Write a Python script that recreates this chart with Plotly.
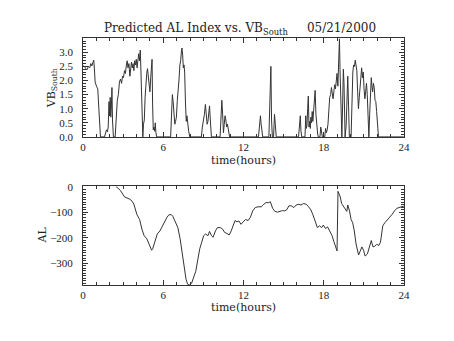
import plotly.graph_objects as go

# Solar-wind southward field (VB_South) sampled along the day, in hours UT
vb_time = [
    0.00, 0.10, 0.20, 0.30, 0.40, 0.50, 0.58, 0.66, 0.74, 0.80, 0.86, 0.90, 1.00, 1.10, 1.18, 1.30,
    1.60, 1.68, 1.75, 1.82, 1.88, 1.94, 1.98, 2.03, 2.07, 2.12, 2.16, 2.20, 2.27,
    2.40, 2.48, 2.56, 2.64, 2.72, 2.80, 2.88, 2.95, 3.02, 3.10, 3.17, 3.24, 3.30, 3.36, 3.43, 3.50,
    3.56, 3.62, 3.68, 3.74, 3.80, 3.86, 3.92, 3.98, 4.04, 4.10, 4.16, 4.22, 4.28, 4.33, 4.38, 4.43, 4.47,
    4.52, 4.58, 4.64, 4.70, 4.76, 4.82, 4.88, 4.94, 5.00, 5.06, 5.12, 5.16, 5.20, 5.25, 5.30, 5.36, 5.40,
    5.45, 5.50,
    6.55, 6.62, 6.68, 6.74, 6.80, 6.86, 6.92, 6.98, 7.05, 7.12, 7.18, 7.24, 7.30, 7.36, 7.40, 7.45,
    7.50, 7.55, 7.60, 7.66, 7.72, 7.77, 7.83, 7.90, 7.98,
    8.85, 8.92, 9.00, 9.08, 9.15, 9.22, 9.28, 9.34, 9.40, 9.46, 9.52, 9.60,
    10.25, 10.32, 10.38, 10.44, 10.50, 10.56, 10.62, 10.68, 10.74, 10.80, 10.88, 10.96,
    13.12, 13.20, 13.27, 13.32, 13.38, 13.44,
    13.90, 13.98, 14.05, 14.10, 14.16, 14.25, 14.32, 14.38, 14.45,
    16.12, 16.20, 16.25, 16.30, 16.36, 16.60, 16.66, 16.70, 16.75, 16.80, 16.85, 16.90, 16.95, 17.00,
    17.04, 17.09, 17.14, 17.19, 17.24, 17.30, 17.36, 17.42, 17.48, 17.55, 17.60, 17.72, 17.78, 17.84,
    17.90, 18.08, 18.14, 18.20, 18.26, 18.32, 18.38, 18.45, 18.52, 18.58, 18.64, 18.70, 18.76, 18.82,
    18.88, 18.94, 19.00, 19.06, 19.12, 19.18, 19.22, 19.27, 19.32, 19.36, 19.42, 19.47, 19.52, 19.56,
    19.60, 19.68, 19.74, 19.80, 19.86, 19.92, 20.05, 20.12, 20.18, 20.24, 20.30, 20.36, 20.42, 20.48,
    20.54, 20.60, 20.66, 20.72, 20.78, 20.84, 20.90, 20.96, 21.02, 21.08, 21.14, 21.20, 21.26, 21.32,
    21.38, 21.44, 21.50, 21.56, 21.60, 21.66, 21.72, 21.78, 21.84, 21.90, 21.96, 22.02, 22.10, 24.00,
]
vb_south = [
    2.52, 2.50, 2.42, 2.38, 2.50, 2.45, 2.60, 2.52, 2.65, 2.72, 2.30, 1.95, 1.80, 1.70, 1.00, 0.00,
    0.00, 0.15, 0.25, 0.18, 0.35, 1.25, 0.75, 1.40, 0.70, 1.10, 1.75, 0.60, 0.00,
    0.00, 0.80, 1.30, 1.50, 1.95, 2.05, 1.90, 2.15, 2.10, 2.35, 2.25, 2.55, 2.70, 2.45, 2.60, 2.15,
    2.35, 2.65, 2.45, 2.60, 2.35, 2.70, 2.55, 2.75, 2.45, 2.90, 2.95, 2.70, 3.08, 2.30, 1.10, 0.45, 0.00,
    0.45, 0.60, 1.40, 2.00, 2.25, 2.42, 2.20, 1.80, 1.60, 2.10, 2.40, 2.75, 1.20, 0.25, 0.35, 0.20, 0.50,
    0.15, 0.00,
    0.00, 0.80, 1.50, 1.25, 0.90, 0.45, 0.55, 0.70, 1.30, 1.95, 2.05, 2.55, 2.70, 3.05, 3.15, 2.90,
    2.45, 2.55, 2.30, 1.20, 0.55, 0.75, 0.45, 0.20, 0.00,
    0.00, 0.35, 0.55, 0.80, 1.15, 0.80, 0.45, 0.55, 0.95, 1.10, 0.60, 0.00,
    0.00, 0.80, 1.30, 0.80, 0.15, 0.45, 0.75, 0.60, 0.35, 0.45, 0.15, 0.00,
    0.00, 0.35, 0.75, 0.45, 0.10, 0.00,
    0.00, 1.20, 2.50, 0.60, 0.00, 0.00, 0.80, 0.45, 0.00,
    0.00, 0.60, 0.75, 0.20, 0.00, 0.00, 0.75, 0.30, 0.40, 1.00, 1.45, 0.35, 0.55, 0.30,
    0.70, 0.50, 0.90, 0.55, 1.00, 1.20, 1.65, 0.80, 0.30, 0.10, 0.00, 0.00, 0.35, 0.10,
    0.00, 0.00, 0.30, 0.15, 0.25, 0.45, 0.90, 1.40, 1.50, 1.75, 1.55, 1.35, 1.60, 1.85,
    1.70, 2.00, 2.25, 1.80, 2.60, 3.48, 2.40, 1.70, 0.60, 0.00, 1.20, 2.40, 1.90, 0.50,
    0.00, 0.40, 1.60, 2.15, 1.10, 0.00, 0.00, 1.50, 2.30, 2.55, 2.50, 2.72, 2.55, 2.35,
    1.60, 1.00, 1.40, 1.80, 2.20, 2.45, 2.10, 2.30, 1.70, 1.35, 1.60, 1.90, 1.50, 0.60,
    0.00, 0.80, 1.60, 2.10, 1.85, 1.60, 1.90, 1.75, 1.30, 1.25, 0.90, 0.40, 0.00, 0.00,
]

# Predicted AL index (nT)
al_time = [
    2.45, 2.80, 3.10, 3.30, 3.50, 3.67, 3.80, 4.03, 4.23, 4.40, 4.57, 4.77, 4.96, 5.13, 5.21, 5.38,
    5.55, 5.75, 5.94, 6.10, 6.28, 6.43, 6.60, 6.72, 6.92, 7.09, 7.26, 7.41, 7.58, 7.70, 7.82, 7.95,
    8.12, 8.29, 8.43, 8.58, 8.73, 8.88, 9.02, 9.17, 9.34, 9.46, 9.61, 9.73, 9.90, 10.05, 10.27, 10.44,
    10.59, 10.76, 10.93, 11.08, 11.25, 11.37, 11.51, 11.66, 11.81, 11.98, 12.15, 12.35, 12.52, 12.69,
    12.88, 13.08, 13.33, 13.52, 13.69, 13.86, 14.01, 14.18, 14.35, 14.55, 14.74, 14.91, 15.08, 15.23,
    15.40, 15.57, 15.77, 15.94, 16.14, 16.30, 16.50, 16.70, 16.87, 17.04, 17.19, 17.36, 17.53, 17.68,
    17.85, 17.97, 18.14, 18.29, 18.46, 18.63, 18.75, 18.90, 19.00, 19.07, 19.14, 19.24, 19.34, 19.49,
    19.63, 19.73, 19.80, 19.93, 20.05, 20.17, 20.29, 20.42, 20.61, 20.73, 20.86, 20.98, 21.10, 21.27,
    21.44, 21.56, 21.69, 21.83, 21.96, 22.13, 22.25, 22.42, 22.57, 22.74, 22.91, 23.10, 23.30, 23.47,
    23.64, 23.84, 24.00,
]
al_index = [
    3, -14, -39, -43, -48, -56, -68, -109, -128, -166, -192, -204, -226, -249, -243, -211,
    -185, -173, -153, -137, -119, -109, -109, -116, -141, -160, -204, -262, -313, -363, -383, -386,
    -379, -357, -332, -287, -243, -217, -192, -185, -192, -175, -192, -198, -173, -160, -160, -166,
    -179, -183, -189, -173, -153, -132, -137, -134, -147, -137, -128, -132, -119, -94,
    -81, -78, -78, -68, -61, -62, -58, -84, -96, -99, -96, -93, -94, -90,
    -74, -74, -81, -71, -68, -71, -65, -68, -78, -90, -109, -135, -160, -153,
    -160, -150, -164, -157, -173, -192, -213, -236, -252, -17, -26, -39, -65, -78,
    -90, -96, -71, -94, -128, -141, -173, -224, -268, -255, -236, -249, -272, -264,
    -236, -211, -236, -233, -226, -230, -217, -153, -141, -132, -122, -109, -94, -84,
    -81, -78, -75,
]

hour_ticks = [0, 6, 12, 18, 24]
vb_ticks = [0.0, 0.5, 1.0, 1.5, 2.0, 2.5, 3.0]
vb_tick_text = ["0.0", "0.5", "1.0", "1.5", "2.0", "2.5", "3.0"]
al_ticks = [0, -100, -200, -300]

W, H = 454, 341
FONT = "DejaVu Serif"
TICK_FONT = "Liberation Serif"
INK = "#333333"


def px_x(x):
    return x / W


def px_y(y):
    return 1 - y / H


fig = go.Figure()
fig.add_trace(go.Scatter(x=vb_time, y=vb_south, mode="lines",
                         line=dict(color=INK, width=1), xaxis="x", yaxis="y",
                         showlegend=False))
fig.add_trace(go.Scatter(x=al_time, y=al_index, mode="lines",
                         line=dict(color=INK, width=1), xaxis="x2", yaxis="y2",
                         showlegend=False))

axis_common = dict(
    showgrid=False, zeroline=False, showline=True, linecolor=INK, linewidth=1,
    mirror="allticks", ticks="inside", tickcolor=INK, tickwidth=1,
    tickfont=dict(family=TICK_FONT, size=11, color="#222"),
)

x0, x1 = px_x(81.7), px_x(409)
fig.update_layout(
    width=W, height=H, margin=dict(l=0, r=0, t=0, b=0),
    paper_bgcolor="white", plot_bgcolor="white",
    xaxis=dict(domain=[x0, x1], range=[0, 24], tickvals=hour_ticks, ticklen=5,
               minor=dict(dtick=1, ticks="inside", ticklen=3, tickcolor=INK),
               anchor="y", ticklabelstandoff=0, **axis_common),
    yaxis=dict(domain=[px_y(136.3), px_y(34.3)], range=[0, 3.5], tickvals=vb_ticks,
               ticktext=vb_tick_text, ticklen=5,
               minor=dict(dtick=0.1, ticks="inside", ticklen=3, tickcolor=INK),
               anchor="x", ticklabelstandoff=7, **axis_common),
    xaxis2=dict(domain=[x0, x1], range=[0, 24], tickvals=hour_ticks, ticklen=5,
                minor=dict(dtick=1, ticks="inside", ticklen=3, tickcolor=INK),
                anchor="y2", ticklabelstandoff=0, **axis_common),
    yaxis2=dict(domain=[px_y(289.3), px_y(187.3)], range=[-386, 3], tickvals=al_ticks,
                ticklen=5,
                minor=dict(dtick=10, ticks="inside", ticklen=3, tickcolor=INK),
                anchor="x2", ticklabelstandoff=7, **axis_common),
)

label_font = dict(family=FONT, size=11, color="#222")
notes = [
    dict(text="Predicted AL Index vs. VB<sub>South</sub>\u00a0\u00a0\u00a0\u00a0\u00a005/21/2000",
         x=px_x(242), y=px_y(25), font=dict(family=FONT, size=12, color="#222"), textangle=0),
    dict(text="time(hours)", x=px_x(245), y=px_y(161), font=label_font, textangle=0),
    dict(text="time(hours)", x=px_x(245), y=px_y(313), font=label_font, textangle=0),
    dict(text="VB<sub>South</sub>", x=px_x(50), y=px_y(86), font=label_font, textangle=-90),
    dict(text="AL", x=px_x(40), y=px_y(238), font=label_font, textangle=-90),
]
for n in notes:
    fig.add_annotation(xref="paper", yref="paper", showarrow=False,
                       xanchor="center", yanchor="middle", **n)

fig.write_html("out.html")
